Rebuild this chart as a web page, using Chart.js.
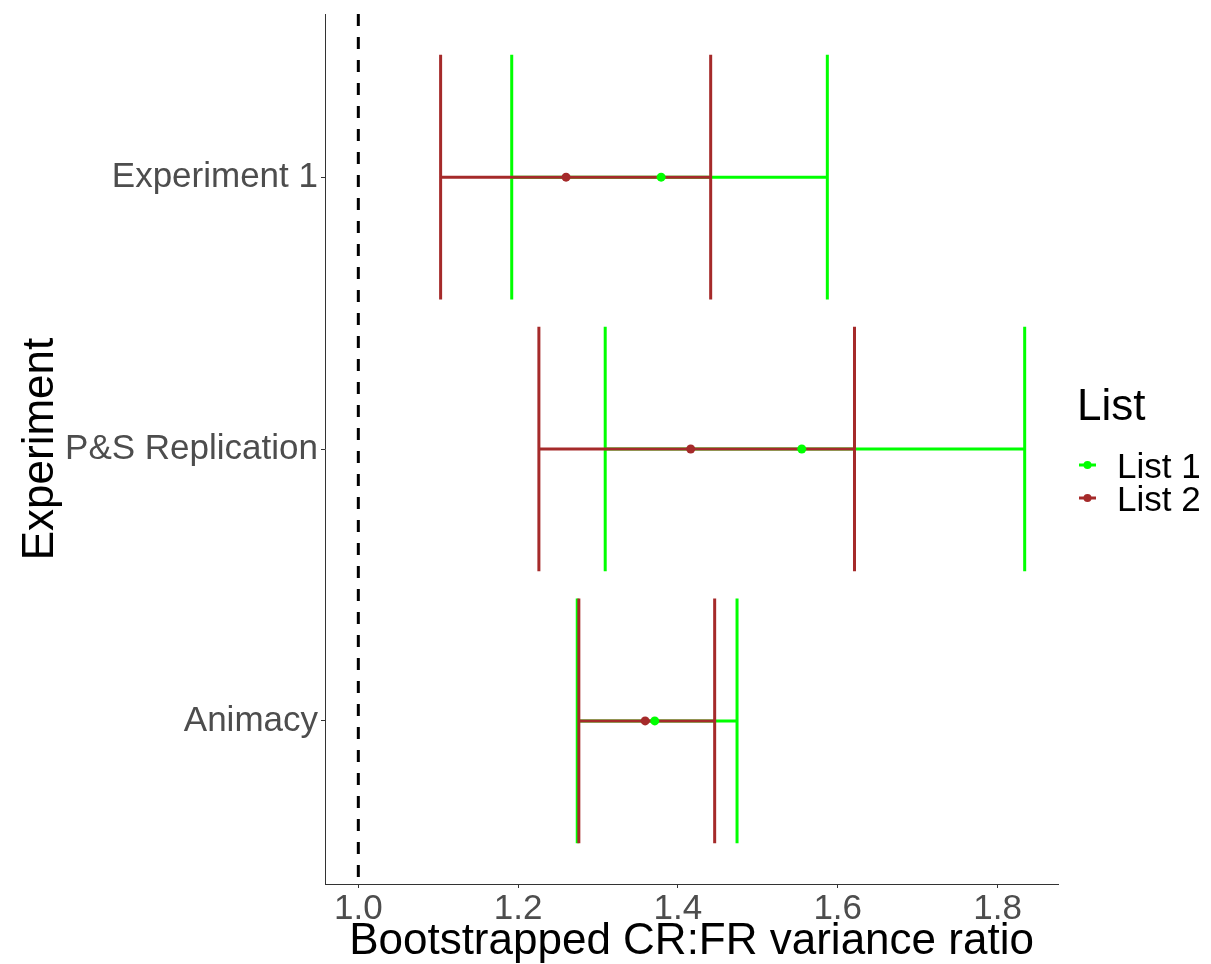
<!DOCTYPE html>
<html>
<head>
<meta charset="utf-8">
<title>Bootstrapped CR:FR variance ratio</title>
<script src="https://cdn.jsdelivr.net/npm/chart.js@4/dist/chart.umd.min.js"></script>
<style>
  html, body { margin: 0; padding: 0; background: #fff; }
  #wrap { position: relative; width: 1211px; height: 964px; }
</style>
</head>
<body>
<div id="wrap"><canvas id="ratioChart"></canvas></div>
<script>
  // experiments, top to bottom
  const categories = ['Experiment 1', 'P&S Replication', 'Animacy'];

  // List 1 (green): point estimate and interval
  const list1Mean = [1.379, 1.555, 1.371];
  const list1Lower = [1.192, 1.309, 1.274];
  const list1Upper = [1.587, 1.834, 1.474];

  // List 2 (brown)
  const list2Mean = [1.260, 1.416, 1.359];
  const list2Lower = [1.103, 1.226, 1.276];
  const list2Upper = [1.441, 1.621, 1.446];

  const xTicks = [1.0, 1.2, 1.4, 1.6, 1.8];
  const refLine = 1.0;

  const GREEN = '#00FF00';
  const BROWN = '#A52A2A';
  const FONT = '"Liberation Sans", Arial, Helvetica, sans-serif';

  const series = [
    { name: 'List 1', color: GREEN, mean: list1Mean, lower: list1Lower, upper: list1Upper },
    { name: 'List 2', color: BROWN, mean: list2Mean, lower: list2Lower, upper: list2Upper }
  ];

  // x range: reference line up to the widest interval, padded 5% each side
  const hi = Math.max(...list1Upper, ...list2Upper);
  const lo = Math.min(refLine, ...list1Lower, ...list2Lower);
  const pad = (hi - lo) * 0.05;

  const errorBars = {
    id: 'errorBars',
    beforeDatasetsDraw(chart) {
      const { ctx, chartArea, scales: { x, y } } = chart;
      ctx.save();
      ctx.beginPath();
      ctx.rect(chartArea.left, chartArea.top, chartArea.right - chartArea.left, chartArea.bottom - chartArea.top);
      ctx.clip();

      // dashed reference line
      ctx.strokeStyle = '#000';
      ctx.lineWidth = 3;
      ctx.setLineDash([12, 11]);
      ctx.beginPath();
      ctx.moveTo(x.getPixelForValue(refLine), chartArea.top);
      ctx.lineTo(x.getPixelForValue(refLine), chartArea.bottom);
      ctx.stroke();
      ctx.setLineDash([]);

      // horizontal intervals with whiskers
      ctx.lineWidth = 3;
      ctx.lineCap = 'butt';
      series.forEach(s => {
        ctx.strokeStyle = s.color;
        categories.forEach((c, i) => {
          const yc = y.getPixelForValue(i + 1);
          const y0 = y.getPixelForValue(i + 1 - 0.45);
          const y1 = y.getPixelForValue(i + 1 + 0.45);
          const xl = x.getPixelForValue(s.lower[i]);
          const xr = x.getPixelForValue(s.upper[i]);
          ctx.beginPath();
          ctx.moveTo(xl, y0); ctx.lineTo(xl, y1);
          ctx.moveTo(xl, yc); ctx.lineTo(xr, yc);
          ctx.moveTo(xr, y0); ctx.lineTo(xr, y1);
          ctx.stroke();
        });
      });
      ctx.restore();
    }
  };

  const legendBox = {
    id: 'legendBox',
    afterDraw(chart) {
      const { ctx } = chart;
      ctx.save();
      ctx.fillStyle = '#000';
      ctx.textBaseline = 'alphabetic';
      ctx.textAlign = 'left';
      ctx.font = '44px ' + FONT;
      ctx.fillText('List', 1077, 420);
      ctx.font = '35px ' + FONT;
      series.forEach((s, i) => {
        const yc = 465 + i * 33;
        ctx.strokeStyle = s.color;
        ctx.lineWidth = 3;
        ctx.beginPath();
        ctx.moveTo(1079, yc);
        ctx.lineTo(1096, yc);
        ctx.stroke();
        ctx.fillStyle = s.color;
        ctx.beginPath();
        ctx.arc(1087.5, yc, 4, 0, Math.PI * 2);
        ctx.fill();
        ctx.fillStyle = '#000';
        ctx.fillText(s.name, 1117, yc + 12.5);
      });
      ctx.restore();
    }
  };

  // green listed first so its points sit on top
  const datasets = series.map(s => ({
    label: s.name,
    data: s.mean.map((m, i) => ({ x: m, y: i + 1 })),
    backgroundColor: s.color,
    borderWidth: 0,
    pointRadius: 4.5,
    pointHoverRadius: 4.5
  }));

  new Chart(document.getElementById('ratioChart'), {
    type: 'scatter',
    data: { datasets },
    plugins: [errorBars, legendBox],
    options: {
      responsive: true,
      maintainAspectRatio: false,
      animation: false,
      events: [],
      layout: { padding: { top: 14, right: 153, bottom: 0, left: 0 } },
      plugins: { legend: { display: false }, tooltip: { enabled: false } },
      scales: {
        x: {
          type: 'linear',
          min: lo - pad,
          max: hi + pad,
          afterBuildTicks: axis => { axis.ticks = xTicks.map(v => ({ value: v })); },
          afterFit: axis => {
            axis.height = 80;
            axis.paddingLeft = 0;
            axis.paddingRight = 0;
          },
          grid: { display: true, drawOnChartArea: false, drawTicks: true, tickLength: 4, color: '#333', lineWidth: 1 },
          border: { display: true, color: '#333', width: 1 },
          ticks: {
            color: '#4D4D4D',
            font: { family: FONT, size: 35 },
            padding: 0,
            maxRotation: 0,
            callback: v => Number(v).toFixed(1)
          },
          title: {
            display: true,
            text: 'Bootstrapped CR:FR variance ratio',
            color: '#000',
            font: { family: FONT, size: 44, lineHeight: 1 },
            padding: { top: 0, bottom: 0 }
          }
        },
        y: {
          type: 'linear',
          reverse: true,
          min: 0.4,
          max: categories.length + 0.6,
          afterBuildTicks: axis => { axis.ticks = categories.map((c, i) => ({ value: i + 1 })); },
          afterFit: axis => {
            axis.width = 325;
            axis.paddingTop = 0;
            axis.paddingBottom = 0;
          },
          grid: { display: true, drawOnChartArea: false, drawTicks: true, tickLength: 4, color: '#333', lineWidth: 1 },
          border: { display: true, color: '#333', width: 1 },
          ticks: {
            color: '#4D4D4D',
            font: { family: FONT, size: 35 },
            padding: 3,
            callback: v => categories[Math.round(v) - 1]
          },
          title: {
            display: true,
            text: 'Experiment',
            color: '#000',
            font: { family: FONT, size: 44, lineHeight: 1 },
            padding: { top: 19, bottom: 0 }
          }
        }
      }
    }
  });
</script>
</body>
</html>
